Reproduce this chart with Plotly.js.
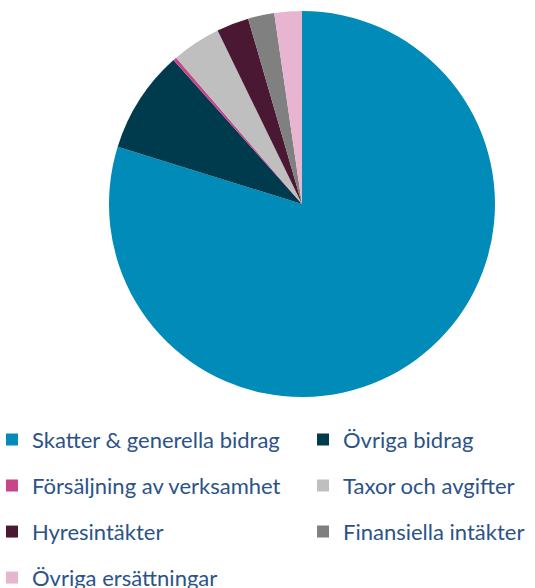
<!DOCTYPE html>
<html><head><meta charset="utf-8">
<script src="https://cdn.plot.ly/plotly-3.0.1.min.js"></script>
<style>body{margin:0;padding:0;background:#fff}</style>
</head><body>
<div id="chart" style="width:535px;height:588px"></div>
<script>
const categories = ["Skatter & generella bidrag","Övriga bidrag","Försäljning av verksamhet","Taxor och avgifter","Hyresintäkter","Finansiella intäkter","Övriga ersättningar"];
const values = [79.8, 8.6, 0.3, 4.1, 2.7, 2.2, 2.3];
const colors = ["#008bb8","#003a4d","#c8458c","#bfbfbf","#4b1833","#808080","#e8b5d1"];

const pie = {
  type: 'pie',
  labels: categories,
  values: values,
  marker: {colors: colors, line: {width: 0}},
  sort: false,
  direction: 'clockwise',
  rotation: 0,
  textinfo: 'none',
  hoverinfo: 'none',
  showlegend: false,
  domain: {x: [0.2037, 0.9252], y: [0.3248, 0.9813]}
};

// legend entries: two columns, filled row by row (left, right, left, right, ...)
const legendTraces = categories.map((name, i) => ({
  type: 'scatter', mode: 'markers',
  x: [null], y: [null],
  name: name,
  legend: (i % 2 === 0) ? 'legend' : 'legend2',
  legendgroup: 'g' + i,
  marker: {symbol: 'square', size: 12, color: colors[i], line: {width: 0}},
  hoverinfo: 'skip',
  showlegend: true
}));

const legendFont = {family: 'Lato, sans-serif', size: 22, color: '#2b5389'};

Plotly.newPlot('chart', [pie].concat(legendTraces), {
  width: 535, height: 588,
  margin: {l: 0, r: 0, t: 0, b: 0, autoexpand: false},
  paper_bgcolor: '#ffffff',
  plot_bgcolor: 'rgba(0,0,0,0)',
  showlegend: true,
  xaxis: {visible: false, range: [0, 1], fixedrange: true},
  yaxis: {visible: false, range: [0, 1], fixedrange: true},
  legend: {
    orientation: 'v', x: -0.015, xanchor: 'left', y: 0.2878, yanchor: 'top',
    traceorder: 'grouped', tracegroupgap: 14.4,
    font: legendFont, bgcolor: 'rgba(0,0,0,0)'
  },
  legend2: {
    orientation: 'v', x: 0.5664, xanchor: 'left', y: 0.2878, yanchor: 'top',
    traceorder: 'grouped', tracegroupgap: 14.4,
    font: legendFont, bgcolor: 'rgba(0,0,0,0)'
  }
}, {displayModeBar: false, staticPlot: true});
</script>
</body></html>
